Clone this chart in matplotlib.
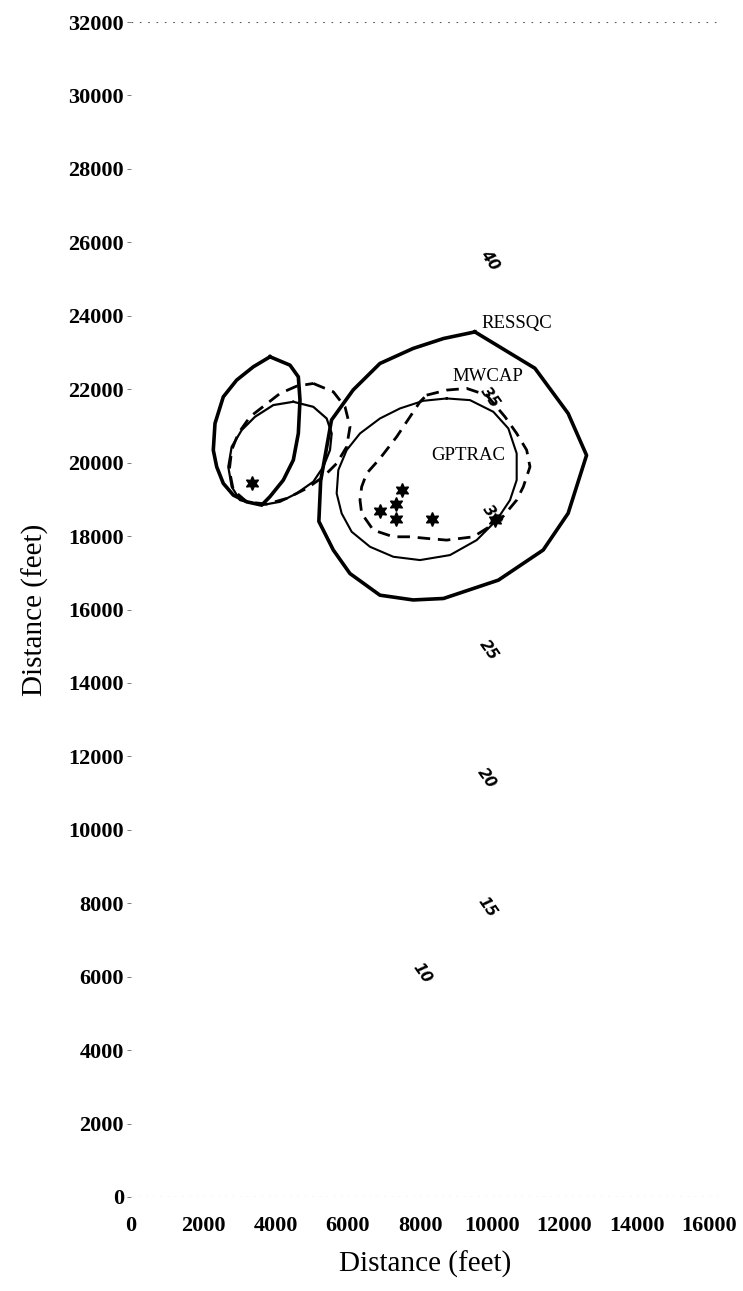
import matplotlib.pyplot as plt

plt.rcParams['font.family'] = ['Liberation Serif', 'DejaVu Serif']

# contour outlines (x, y in feet)
ressqc_x = [9520, 11180, 12100, 12610, 12100, 11410, 10170, 8650, 7810, 6890,
            6060, 5600, 5200, 5250, 5550, 6150, 6890, 7810, 8650, 9520]
ressqc_y = [23560, 22570, 21340, 20200, 18620, 17620, 16800, 16300, 16260, 16390,
            16980, 17620, 18400, 19500, 21160, 21980, 22700, 23110, 23380, 23560]

mwcap_x = [8184, 8738, 9292, 9846, 10352, 10676, 10953, 11044, 10859, 10676,
           10214, 9846, 9476, 8738, 8184, 7723, 7262, 6707, 6385, 6339,
           6385, 6523, 6892, 7354, 7723, 8000, 8184]
mwcap_y = [21838, 21975, 22021, 21838, 21248, 20795, 20341, 19886, 19342, 18979,
           18435, 18208, 17980, 17890, 17936, 17980, 17980, 18162, 18617, 18979,
           19342, 19705, 20114, 20704, 21248, 21657, 21838]

gptrac_x = [8738, 9384, 10030, 10445, 10676, 10676, 10491, 10122, 9569, 8830,
            8000, 7262, 6616, 6108, 5831, 5693, 5739, 5970, 6339, 6892,
            7446, 8093, 8738]
gptrac_y = [21748, 21702, 21384, 20931, 20250, 19524, 18979, 18435, 17890, 17482,
            17346, 17436, 17708, 18117, 18617, 19162, 19797, 20341, 20795, 21203,
            21476, 21684, 21748]

# western cluster
west_thick_x = [3848, 4401, 4632, 4678, 4632, 4493, 4216, 3848, 3618, 3202,
                2832, 2555, 2372, 2278, 2325, 2555, 2924, 3386, 3848]
west_thick_y = [22882, 22655, 22337, 21703, 20796, 20069, 19524, 19075, 18843, 18933,
                19115, 19434, 19886, 20341, 21067, 21792, 22247, 22610, 22882]

west_thin_x = [4493, 5046, 5416, 5555, 5508, 5323, 5046, 4586, 4124, 3618,
               3017, 2787, 2693, 2787, 3064, 3432, 3939, 4493]
west_thin_y = [21657, 21520, 21203, 20796, 20341, 19886, 19479, 19162, 18933, 18843,
               18979, 19342, 19886, 20432, 20886, 21248, 21567, 21657]

west_dash_x = [5046, 5600, 5924, 6062, 5970, 5693, 5323, 4863, 4309, 3756,
               3202, 2832, 2721, 2787, 2970, 3294, 3756, 4124, 4586, 5046]
west_dash_y = [22156, 21929, 21520, 20975, 20432, 19978, 19614, 19298, 19025, 18870,
               18933, 19252, 19797, 20341, 20796, 21248, 21602, 21884, 22083, 22156]

# event locations
event_x = [3340, 7492, 7335, 6892, 7335, 8323, 10076]
event_y = [19434, 19252, 18870, 18693, 18475, 18475, 18435]

# depth labels along the profile
depth_labels = ['10', '15', '20', '25', '30', '35', '40']
depth_x = [8071, 9846, 9846, 9892, 9984, 9938, 9938]
depth_y = [6092, 7905, 11401, 14895, 18570, 21792, 25515]

model_names = ['RESSQC', 'MWCAP', 'GPTRAC']
name_x = [10686, 9892, 9338]
name_y = [23780, 22337, 20205]

ticks_x = list(range(0, 16001, 2000))
ticks_y = list(range(0, 32001, 2000))

fig = plt.figure(figsize=(7.43, 12.91), dpi=100)
ax = fig.add_axes([131 / 743, 1 - 1197 / 1291, (720 - 131) / 743, (1197 - 22) / 1291])

ax.plot(ressqc_x, ressqc_y, color='black', lw=2.6, solid_joinstyle='round')
ax.plot(mwcap_x, mwcap_y, color='black', lw=2.0, linestyle=(0, (4.5, 2.8)))
ax.plot(gptrac_x, gptrac_y, color='black', lw=1.5, solid_joinstyle='round')

ax.plot(west_thick_x, west_thick_y, color='black', lw=2.6, solid_joinstyle='round')
ax.plot(west_thin_x, west_thin_y, color='black', lw=1.6, solid_joinstyle='round')
ax.plot(west_dash_x, west_dash_y, color='black', lw=2.0, linestyle=(0, (4.5, 2.8)))

ax.plot(event_x, event_y, linestyle='none', marker=(6, 1, 0), markersize=10,
        color='black')

for lab, x, y in zip(depth_labels, depth_x, depth_y):
    ax.text(x, y, lab, rotation=-55, ha='center', va='center', fontsize=11,
            family=['DejaVu Sans'], style='italic', fontweight='bold')

for lab, x, y in zip(model_names, name_x, name_y):
    ax.text(x, y, lab, ha='center', va='center', fontsize=13.5)

# dotted frame lines top and bottom
ax.axhline(0, color='0.35', lw=0.8, linestyle=(0, (1.5, 5)))
ax.axhline(32000, color='0.35', lw=0.8, linestyle=(0, (1.5, 6)))

ax.set_xlim(0, 16304)
ax.set_ylim(0, 32000)
for s in ax.spines.values():
    s.set_visible(False)

ax.set_xticks(ticks_x)
ax.set_yticks(ticks_y)
ax.set_xticklabels([str(t) for t in ticks_x], fontsize=16, fontweight='bold')
ax.set_yticklabels([str(t) for t in ticks_y], fontsize=16, fontweight='bold')
ax.tick_params(axis='x', length=0, pad=14)
ax.tick_params(axis='y', length=3, width=0.6, color='0.4', pad=2)

ax.set_xlabel('Distance (feet)', fontsize=21, labelpad=10)
ax.set_ylabel('Distance (feet)', fontsize=21, labelpad=14)

fig.savefig('out.png', dpi=100)
